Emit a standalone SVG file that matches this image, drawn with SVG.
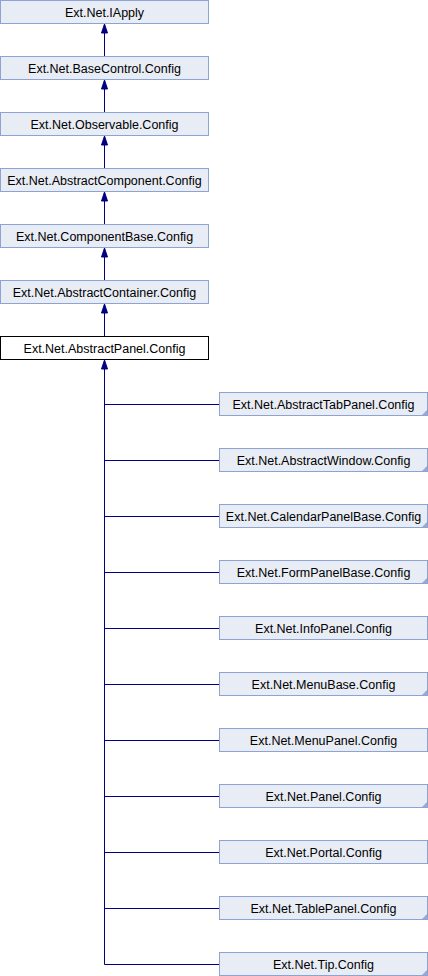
<svg xmlns="http://www.w3.org/2000/svg" width="428" height="976" viewBox="0 0 428 976">
<style>
.n rect{fill:#E8ECF5;stroke:#8DA3D3;stroke-width:1}
.n.cur rect{fill:#FFFFFF;stroke:#000000}
.n polygon{fill:#9AAAD0}
text{font-family:"Liberation Sans",Arial,sans-serif;font-size:12.5px;fill:#000;text-anchor:middle}
.e{stroke:#000080;stroke-width:1;fill:none}
.ah{fill:#000080;stroke:#000080}
</style>
<rect width="428" height="976" fill="#fff"/>
<g id="connectors">
<path class="e" d="M104.5 33V56M104.5 89V112M104.5 145V168M104.5 201V224M104.5 257V280M104.5 313V336"/>
<path class="ah" d="M104.5 24L101.5 33H107.5ZM104.5 80L101.5 89H107.5ZM104.5 136L101.5 145H107.5ZM104.5 192L101.5 201H107.5ZM104.5 248L101.5 257H107.5ZM104.5 304L101.5 313H107.5Z"/>
<path class="e" d="M104.5 369V964.5M104.5 404.5H219M104.5 460.5H219M104.5 516.5H219M104.5 572.5H219M104.5 628.5H219M104.5 684.5H219M104.5 740.5H219M104.5 796.5H219M104.5 852.5H219M104.5 908.5H219M104.5 964.5H219"/>
<path class="ah" d="M104.5 360L101.5 369H107.5Z"/>
</g>
<g id="n0" class="n"><rect x="0.5" y="0.5" width="208" height="23"/><text x="104.5" y="16.5">Ext.Net.IApply</text></g>
<g id="n1" class="n"><rect x="0.5" y="56.5" width="208" height="23"/><text x="104.5" y="72.5">Ext.Net.BaseControl.Config</text></g>
<g id="n2" class="n"><rect x="0.5" y="112.5" width="208" height="23"/><text x="104.5" y="128.5">Ext.Net.Observable.Config</text></g>
<g id="n3" class="n"><rect x="0.5" y="168.5" width="208" height="23"/><text x="104.5" y="184.5">Ext.Net.AbstractComponent.Config</text></g>
<g id="n4" class="n"><rect x="0.5" y="224.5" width="208" height="23"/><text x="104.5" y="240.5">Ext.Net.ComponentBase.Config</text></g>
<g id="n5" class="n"><rect x="0.5" y="280.5" width="208" height="23"/><text x="104.5" y="296.5">Ext.Net.AbstractContainer.Config</text></g>
<g id="n6" class="n cur"><rect x="0.5" y="336.5" width="208" height="23"/><text x="104.5" y="352.5">Ext.Net.AbstractPanel.Config</text></g>
<g id="n7" class="n"><rect x="219.5" y="392.5" width="208" height="23"/><polygon points="427,410 427,415 422,415"/><text x="323.5" y="408.5">Ext.Net.AbstractTabPanel.Config</text></g>
<g id="n8" class="n"><rect x="219.5" y="448.5" width="208" height="23"/><polygon points="427,466 427,471 422,471"/><text x="323.5" y="464.5">Ext.Net.AbstractWindow.Config</text></g>
<g id="n9" class="n"><rect x="219.5" y="504.5" width="208" height="23"/><polygon points="427,522 427,527 422,527"/><text x="323.5" y="520.5">Ext.Net.CalendarPanelBase.Config</text></g>
<g id="n10" class="n"><rect x="219.5" y="560.5" width="208" height="23"/><polygon points="427,578 427,583 422,583"/><text x="323.5" y="576.5">Ext.Net.FormPanelBase.Config</text></g>
<g id="n11" class="n"><rect x="219.5" y="616.5" width="208" height="23"/><text x="323.5" y="632.5">Ext.Net.InfoPanel.Config</text></g>
<g id="n12" class="n"><rect x="219.5" y="672.5" width="208" height="23"/><polygon points="427,690 427,695 422,695"/><text x="323.5" y="688.5">Ext.Net.MenuBase.Config</text></g>
<g id="n13" class="n"><rect x="219.5" y="728.5" width="208" height="23"/><text x="323.5" y="744.5">Ext.Net.MenuPanel.Config</text></g>
<g id="n14" class="n"><rect x="219.5" y="784.5" width="208" height="23"/><polygon points="427,802 427,807 422,807"/><text x="323.5" y="800.5">Ext.Net.Panel.Config</text></g>
<g id="n15" class="n"><rect x="219.5" y="840.5" width="208" height="23"/><text x="323.5" y="856.5">Ext.Net.Portal.Config</text></g>
<g id="n16" class="n"><rect x="219.5" y="896.5" width="208" height="23"/><polygon points="427,914 427,919 422,919"/><text x="323.5" y="912.5">Ext.Net.TablePanel.Config</text></g>
<g id="n17" class="n"><rect x="219.5" y="952.5" width="208" height="23"/><polygon points="427,970 427,975 422,975"/><text x="323.5" y="968.5">Ext.Net.Tip.Config</text></g>
</svg>
